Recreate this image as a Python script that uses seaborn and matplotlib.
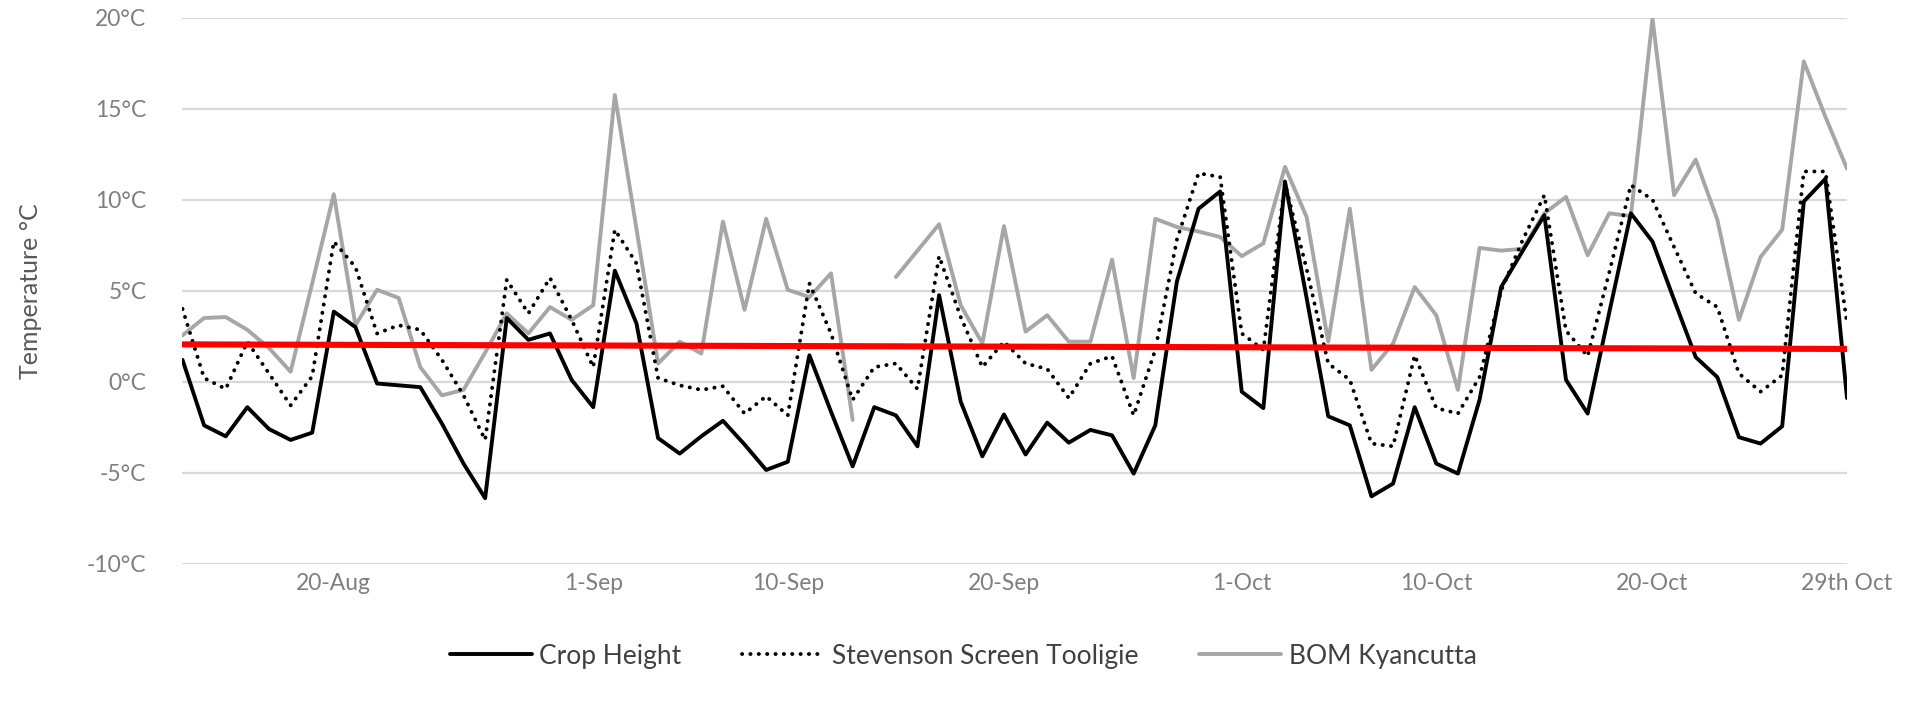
import numpy as np
import pandas as pd
import matplotlib
matplotlib.use("Agg")
import matplotlib.pyplot as plt
from matplotlib.lines import Line2D
import seaborn as sns

# Daily minimum temperatures, 13 Aug - 29 Oct
start_date = "2019-08-13"
end_date = "2019-10-29"

crop_height = [
    1.2, -2.4, -3.0, -1.4, -2.6, -3.2, -2.8, 3.85, 3.0, -0.1,
    -0.2, -0.3, -2.3, -4.5, -6.4, 3.5, 2.3, 2.65, 0.1, -1.4,
    6.1, 3.2, -3.1, -3.95, -3.0, -2.15, -3.45, -4.85, -4.4, 1.45,
    -1.65, -4.65, -1.4, -1.85, -3.55, 4.75, -1.1, -4.1, -1.8, -4.0,
    -2.25, -3.35, -2.65, -2.95, -5.05, -2.4, 5.5, 9.5, 10.45, -0.55,
    -1.45, 11.0, 4.6, -1.9, -2.4, -6.3, -5.6, -1.4, -4.5, -5.05,
    -1.0, 5.2, 7.2, 9.15, 0.1, -1.75, 3.8, 9.25, 7.7, 4.5,
    1.35, 0.25, -3.05, -3.4, -2.45, 9.9, 11.15, -0.9,
]

stevenson_screen = [
    4.0, 0.2, -0.4, 2.2, 0.45, -1.3, 0.3, 7.7, 6.3, 2.65,
    3.1, 2.85, 1.2, -0.75, -3.2, 5.6, 3.75, 5.7, 3.4, 0.8,
    8.35, 6.5, 0.2, -0.2, -0.45, -0.25, -1.75, -0.8, -1.85, 5.4,
    2.65, -1.0, 0.8, 1.0, -0.4, 6.9, 3.55, 0.8, 2.2, 1.0,
    0.7, -0.9, 1.0, 1.4, -1.85, 1.75, 7.8, 11.45, 11.25, 2.65,
    1.75, 10.9, 6.2, 1.0, 0.1, -3.4, -3.55, 1.45, -1.45, -1.75,
    0.25, 5.0, 7.8, 10.25, 2.8, 1.4, 6.0, 10.8, 10.0, 7.4,
    4.85, 4.1, 0.45, -0.55, 0.35, 11.55, 11.55, 3.2,
]

bom_kyancutta = [
    2.55, 3.5, 3.55, 2.85, 1.85, 0.55, 5.4, 10.3, 3.1, 5.05,
    4.6, 0.8, -0.75, -0.45, 1.6, 3.75, 2.65, 4.1, 3.4, 4.2,
    15.75, 8.4, 1.0, 2.2, 1.55, 8.8, 3.95, 8.95, 5.05, 4.65,
    5.95, -2.1, np.nan, 5.75, 7.2, 8.65, 4.2, 2.1, 8.55, 2.75,
    3.65, 2.2, 2.2, 6.7, 0.2, 8.95, 8.5, 8.25, 7.95, 6.9,
    7.6, 11.8, 9.05, 2.2, 9.5, 0.65, 2.1, 5.2, 3.65, -0.45,
    7.35, 7.2, 7.3, 9.25, 10.15, 6.95, 9.25, 9.1, 19.95, 10.25,
    12.2, 8.9, 3.4, 6.85, 8.35, 17.6, 14.55, 11.7,
]

# Reference line (start and end values)
reference_line = [2.05, 1.8]

tick_dates = ["2019-08-20", "2019-09-01", "2019-09-10", "2019-09-20",
              "2019-10-01", "2019-10-10", "2019-10-20", "2019-10-29"]
tick_labels = ["20-Aug", "1-Sep", "10-Sep", "20-Sep",
               "1-Oct", "10-Oct", "20-Oct", "29th Oct"]
y_ticks = [-10, -5, 0, 5, 10, 15, 20]
y_tick_labels = [f"{v}°C" for v in y_ticks]

series_names = ["Crop Height", "Stevenson Screen Tooligie", "BOM Kyancutta"]

dates = pd.date_range(start_date, end_date, freq="D")
df = pd.DataFrame({
    "date": dates,
    series_names[0]: crop_height,
    series_names[1]: stevenson_screen,
    series_names[2]: bom_kyancutta,
})
# separate runs of valid values so missing days leave a gap
df["bom_run"] = df[series_names[2]].isna().cumsum()

ref_df = pd.DataFrame({"date": [dates[0], dates[-1]], "value": reference_line})

sns.set_theme(style="white")
plt.rcParams["font.family"] = ["Lato", "DejaVu Sans"]

fig = plt.figure(figsize=(19.19, 7.04), dpi=100)
ax = fig.add_axes([0.0951, 0.1993, 0.8674, 0.7756])

grey_text = "#7f7f7f"
lw = 2.8
dot_style = (0, (0.05, 2.1))

sns.lineplot(data=df.dropna(subset=[series_names[2]]), x="date", y=series_names[2],
             units="bom_run", estimator=None, color="#a6a6a6", linewidth=lw,
             ax=ax, zorder=2)
sns.lineplot(data=df, x="date", y=series_names[1], color="black", linewidth=lw,
             linestyle=dot_style, dash_capstyle="round", ax=ax, zorder=3)
sns.lineplot(data=df, x="date", y=series_names[0], color="black", linewidth=lw,
             ax=ax, zorder=4)
sns.lineplot(data=ref_df, x="date", y="value", color="#ff0000", linewidth=4.4,
             ax=ax, zorder=5)

ax.set_xlim(dates[0], dates[-1])
ax.set_ylim(-10, 20)
ax.set_yticks(y_ticks)
ax.set_yticklabels(y_tick_labels)
ax.set_xticks(pd.to_datetime(tick_dates))
ax.set_xticklabels(tick_labels)
ax.tick_params(axis="both", length=0, labelsize=16.5, colors=grey_text)
ax.tick_params(axis="y", pad=26)
ax.tick_params(axis="x", pad=7)
ax.yaxis.grid(True, color="#d9d9d9", linewidth=1.6)
ax.xaxis.grid(False)
for s in ax.spines.values():
    s.set_visible(False)

ax.set_xlabel("")
ax.set_ylabel("Temperature °C", fontsize=18, color="#595959", labelpad=32)

handles = [
    Line2D([], [], color="black", linewidth=lw),
    Line2D([], [], color="black", linewidth=lw, linestyle=dot_style,
           dash_capstyle="round"),
    Line2D([], [], color="#a6a6a6", linewidth=lw),
]
fig.legend(handles, series_names, loc="center", bbox_to_anchor=(0.502, 0.068),
           ncol=3, frameon=False, fontsize=19, handlelength=3.1,
           handletextpad=0.3, columnspacing=2.3, labelcolor="#404040")

fig.savefig("out.png", dpi=100, facecolor="white")
